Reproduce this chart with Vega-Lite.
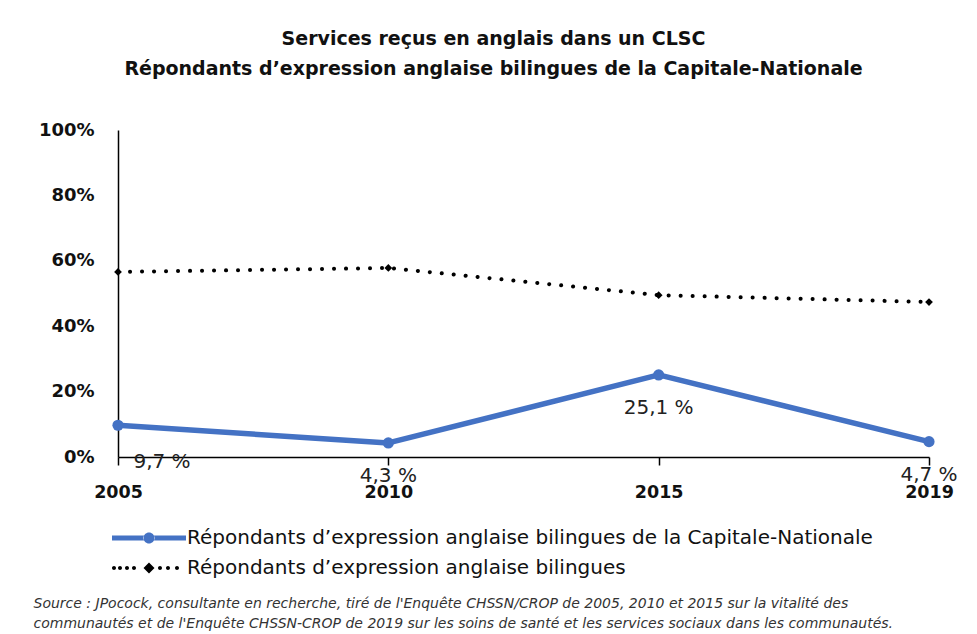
{
  "$schema": "https://vega.github.io/schema/vega-lite/v6.json",
  "width": 811,
  "height": 327,
  "autosize": {"type": "none"},
  "padding": {"left": 118, "top": 130, "right": 48, "bottom": 177},
  "background": "white",
  "config": {
    "view": {"stroke": null},
    "font": "DejaVu Sans"
  },
  "title": {
    "text": ["Services reçus en anglais  dans un CLSC", "Répondants d’expression anglaise bilingues de la Capitale-Nationale"],
    "font": "DejaVu Sans",
    "fontSize": 19,
    "fontWeight": "bold",
    "color": "#111111",
    "lineHeight": 30,
    "anchor": "middle",
    "frame": "group",
    "dx": -30,
    "offset": 42
  },
  "data": {
    "values": [
      {"year": "2005", "series": "Répondants d’expression anglaise bilingues", "value": 0.566},
      {"year": "2010", "series": "Répondants d’expression anglaise bilingues", "value": 0.578},
      {"year": "2015", "series": "Répondants d’expression anglaise bilingues", "value": 0.495},
      {"year": "2019", "series": "Répondants d’expression anglaise bilingues", "value": 0.474},
      {"year": "2005", "series": "Répondants d’expression anglaise bilingues de la Capitale-Nationale", "value": 0.097, "label": "9,7 %"},
      {"year": "2010", "series": "Répondants d’expression anglaise bilingues de la Capitale-Nationale", "value": 0.043, "label": "4,3 %"},
      {"year": "2015", "series": "Répondants d’expression anglaise bilingues de la Capitale-Nationale", "value": 0.251, "label": "25,1 %"},
      {"year": "2019", "series": "Répondants d’expression anglaise bilingues de la Capitale-Nationale", "value": 0.047, "label": "4,7 %"}
    ]
  },
  "encoding": {
    "x": {
      "field": "year",
      "type": "ordinal",
      "scale": {"type": "point", "padding": 0},
      "axis": {
        "labelAngle": 0,
        "labelFont": "DejaVu Sans",
        "labelFontSize": 17.5,
        "labelFontWeight": "bold",
        "labelColor": "#111111",
        "labelPadding": 18,
        "domainColor": "#000000",
        "domainWidth": 1.5,
        "tickColor": "#000000",
        "tickWidth": 1.5,
        "tickSize": 8,
        "grid": false,
        "title": ["Source : JPocock, consultante en recherche, tiré de l'Enquête CHSSN/CROP de 2005, 2010 et 2015 sur la vitalité des", "communautés et de l'Enquête CHSSN-CROP de 2019 sur les soins de santé et les services sociaux dans les communautés."],
        "titleFont": "DejaVu Sans",
        "titleFontSize": 14,
        "titleFontStyle": "italic",
        "titleFontWeight": "normal",
        "titleColor": "#333333",
        "titleAnchor": "start",
        "titleAlign": "left",
        "titleBaseline": "top",
        "titleX": -85,
        "titleY": 139,
        "titleLineHeight": 20
      }
    },
    "y": {
      "field": "value",
      "type": "quantitative",
      "scale": {"domain": [0, 1], "nice": false},
      "axis": {
        "values": [0, 0.2, 0.4, 0.6, 0.8, 1],
        "format": ".0%",
        "labelFont": "DejaVu Sans",
        "labelFontSize": 18,
        "labelFontWeight": "bold",
        "labelColor": "#111111",
        "labelPadding": 24,
        "ticks": false,
        "grid": false,
        "domainColor": "#000000",
        "domainWidth": 1.5,
        "title": null
      }
    }
  },
  "layer": [
    {
      "transform": [{"filter": "datum.series == 'Répondants d’expression anglaise bilingues'"}],
      "mark": {"type": "line", "strokeWidth": 4, "strokeDash": [0.1, 11.9], "strokeCap": "round"},
      "encoding": {
        "color": {
          "field": "series",
          "type": "nominal",
          "scale": {
            "domain": ["Répondants d’expression anglaise bilingues de la Capitale-Nationale", "Répondants d’expression anglaise bilingues"],
            "range": ["#4472C4", "#000000"]
          },
          "legend": {
            "orient": "none",
            "legendX": 21,
            "legendY": 398,
            "title": null,
            "padding": 0,
            "symbolSize": 400,
            "labelFont": "DejaVu Sans",
            "labelFontSize": 20,
            "labelColor": "#111111",
            "labelOffset": 28,
            "rowPadding": 10,
            "labelLimit": 0,
            "encode": {
              "symbols": {
                "update": {
                  "shape": {"signal": "datum.index == 0 ? 'M-3.7,-0.25H-0.5V0.25H-3.7Z M0.5,-0.25H3.7V0.25H0.5Z M-0.55,0A0.55,0.55,0,1,0,0.55,0A0.55,0.55,0,1,0,-0.55,0Z' : 'M-3.7,0A0.2,0.2,0,1,0,-3.3,0A0.2,0.2,0,1,0,-3.7,0Z M-3.1,0A0.2,0.2,0,1,0,-2.7,0A0.2,0.2,0,1,0,-3.1,0Z M-2.4,0A0.2,0.2,0,1,0,-2.0,0A0.2,0.2,0,1,0,-2.4,0Z M-1.7,0A0.2,0.2,0,1,0,-1.3,0A0.2,0.2,0,1,0,-1.7,0Z M-0.55,0L0,-0.55L0.55,0L0,0.55Z M0.9,0A0.2,0.2,0,1,0,1.3,0A0.2,0.2,0,1,0,0.9,0Z M1.7,0A0.2,0.2,0,1,0,2.1,0A0.2,0.2,0,1,0,1.7,0Z M2.6,0A0.2,0.2,0,1,0,3.0,0A0.2,0.2,0,1,0,2.6,0Z'"},
                  "fill": {"signal": "datum.index == 0 ? '#4472C4' : '#000000'"},
                  "fillOpacity": {"value": 1},
                  "stroke": {"value": "transparent"},
                  "strokeWidth": {"value": 0},
                  "strokeDash": {"value": [1, 0]}
                }
              }
            }
          }
        }
      }
    },
    {
      "transform": [{"filter": "datum.series == 'Répondants d’expression anglaise bilingues'"}],
      "mark": {"type": "point", "shape": "diamond", "filled": true, "size": 60, "opacity": 1, "color": "#000000"},
      "encoding": {}
    },
    {
      "transform": [{"filter": "datum.series != 'Répondants d’expression anglaise bilingues'"}],
      "mark": {"type": "line", "strokeWidth": 5.5, "strokeCap": "round", "strokeJoin": "round"},
      "encoding": {
        "color": {"field": "series", "type": "nominal"}
      }
    },
    {
      "transform": [{"filter": "datum.series != 'Répondants d’expression anglaise bilingues'"}],
      "mark": {"type": "point", "shape": "circle", "filled": true, "size": 125, "opacity": 1, "color": "#4472C4"},
      "encoding": {}
    },
    {
      "transform": [{"filter": "datum.label && datum.year == '2005'"}],
      "mark": {"type": "text", "font": "DejaVu Sans", "fontSize": 20, "color": "#222222", "baseline": "middle", "align": "center", "dx": 44, "dy": 37},
      "encoding": {"text": {"field": "label"}}
    },
    {
      "transform": [{"filter": "datum.label && datum.year != '2005'"}],
      "mark": {"type": "text", "font": "DejaVu Sans", "fontSize": 20, "color": "#222222", "baseline": "middle", "align": "center", "dy": 33},
      "encoding": {"text": {"field": "label"}}
    }
  ]
}
